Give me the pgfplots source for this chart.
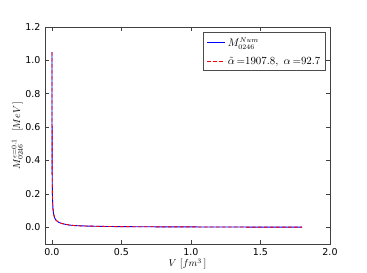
\documentclass[border=0pt]{standalone}
\usepackage{pgfplots}
\pgfplotsset{compat=1.18}
\usepackage{fontspec}
\newfontfamily\dejavu{DejaVu Sans}
\definecolor{mblue}{RGB}{0,0,255}
\definecolor{mred}{RGB}{255,0,0}
\begin{document}
\begin{tikzpicture}
\path (-45bp,-29bp) rectangle (322bp,244bp);
\begin{axis}[
  at={(0,0)}, anchor=south west,
  scale only axis, width=285bp, height=217bp,
  xmin=-0.05, xmax=2.0, ymin=-0.1, ymax=1.2,
  xtick={0,0.5,1.0,1.5,2.0},
  ytick={0,0.2,0.4,0.6,0.8,1.0,1.2},
  scaled ticks=false,
  tick align=inside, tick pos=both,
  major tick length=4bp,
  axis line style={line width=0.8pt, black!75},
  tick style={black!75, line width=0.6pt},
  /pgf/number format/assume math mode=true,
  /pgf/number format/.cd, fixed, fixed zerofill, precision=1, /pgfplots/.cd,
  tick label style={font=\dejavu\fontsize{9.5}{11}\selectfont},
  xticklabel style={yshift=-1bp},
  yticklabel style={xshift=-1bp},
  xlabel={$V\ [fm^3\,]$},
  ylabel={$M_{0246}^{\epsilon=0.1}\ \ [MeV\,]$},
  label style={font=\fontsize{10}{12}\selectfont},
  xlabel style={yshift=4bp},
  ylabel style={yshift=-4bp},
  legend style={at={(0.985,0.975)}, anchor=north east, draw=black!70, line width=0.6pt,
    font=\fontsize{10.5}{12}\selectfont, inner xsep=3bp, inner ysep=3bp, row sep=5pt},
  legend cell align=left,
  clip=true,
]
\addlegendimage{legend image code/.code={\color{mblue}\pgfsetstrokecolor{mblue}\draw[mblue, line width=1pt] (0bp,0bp) -- (18bp,0bp);}}
\addlegendentry{$M_{0246}^{Num}$}
\addlegendimage{legend image code/.code={\color{mred}\pgfsetstrokecolor{mred}\draw[mred, line width=1pt, dash pattern=on 3.5bp off 2.5bp] (0bp,0bp) -- (18bp,0bp);}}
\addlegendentry{$\tilde{\alpha}\,{=}1907.8,\ \alpha\,{=}92.7$}
\addplot[mblue, line width=0.9pt, forget plot] coordinates {
(0.0003,1.05) (0.0005,0.73) (0.001,0.45) (0.002,0.277) (0.004,0.170)
(0.007,0.115) (0.012,0.079) (0.02,0.055) (0.03,0.042) (0.048,0.030)
(0.07,0.023) (0.096,0.018) (0.13,0.013) (0.168,0.010) (0.25,0.0075)
(0.385,0.005) (0.6,0.0035) (0.9,0.0025) (1.2,0.0018) (1.5,0.0014) (1.8,0.0012)
};
\addplot[mred, line width=0.9pt, dash pattern=on 3.5bp off 2.5bp, forget plot] coordinates {
(0.0003,1.05) (0.0005,0.73) (0.001,0.45) (0.002,0.277) (0.004,0.170)
(0.007,0.115) (0.012,0.079) (0.02,0.055) (0.03,0.042) (0.048,0.030)
(0.07,0.023) (0.096,0.018) (0.13,0.013) (0.168,0.010) (0.25,0.0075)
(0.385,0.005) (0.6,0.0035) (0.9,0.0025) (1.2,0.0018) (1.5,0.0014) (1.8,0.0012)
};
\node[anchor=south west, inner sep=0pt, font=\dejavu\fontsize{9.5}{11}\selectfont] at (rel axis cs:0,1) [yshift=1bp, xshift=2bp] {×10\textsuperscript{6}};
\end{axis}
\end{tikzpicture}
\end{document}
